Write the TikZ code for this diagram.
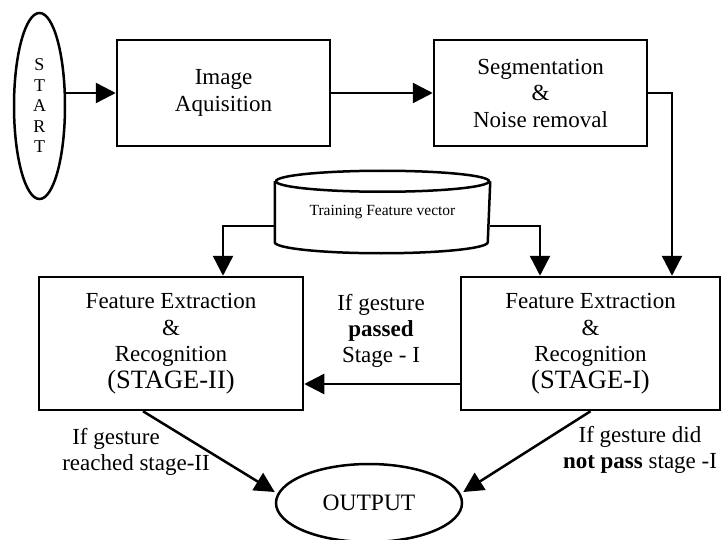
\documentclass[tikz,border=0pt]{standalone}
\usepackage{fontspec}
\setmainfont{Liberation Serif}
\usetikzlibrary{arrows.meta,shapes.geometric}
\begin{document}
\begin{tikzpicture}[x=1pt,y=-1pt, line width=2.5pt,
  box/.style={draw, rectangle, inner sep=0pt, align=center, font=\fontsize{23}{26.5}\selectfont},
  arr/.style={-{Triangle[length=20pt,width=20pt]}},
  lbl/.style={align=center, font=\fontsize{23}{26}\selectfont, inner sep=0pt}]
\useasboundingbox (0,0) rectangle (722,540);

\node[draw, ellipse, minimum width=51pt, minimum height=186pt, inner sep=0pt, align=center, font=\fontsize{18}{20.5}\selectfont] (start) at (39.5,106) {S\\T\\A\\R\\T};
\node[box, minimum width=213pt, minimum height=106pt] (img) at (223.5,93) {Image\\Aquisition};
\node[box, minimum width=213pt, minimum height=106pt] (seg) at (540.5,93) {Segmentation\\\&\\Noise removal};

\node[minimum width=213pt, minimum height=80pt, inner sep=0pt, font=\fontsize{15.5}{18}\selectfont] (tfv) at (382.5,212) {Training Feature vector};
\draw ([yshift=-10.5pt]tfv.north) ellipse [x radius=106.5pt, y radius=10.5pt];
\draw ([yshift=-10.5pt]tfv.north west) -- ([yshift=11pt]tfv.south west) arc[start angle=180, end angle=360, x radius=106.5pt, y radius=11pt] -- ([yshift=-10.5pt]tfv.north east);

\node[box, minimum width=264pt, minimum height=133pt] (s2) at (171,343.5) {Feature Extraction\\\&\\Recognition\\{\fontsize{26.5}{28}\selectfont (STAGE-II)}};
\node[box, minimum width=259pt, minimum height=133pt] (s1) at (590.5,343.5) {Feature Extraction\\\&\\Recognition\\{\fontsize{26.5}{28}\selectfont (STAGE-I)}};

\node[draw, ellipse, minimum width=186pt, minimum height=78pt, inner sep=0pt, font=\fontsize{23.5}{26}\selectfont] (out) at (369,503) {OUTPUT};

\node[lbl] (lp) at (381,331) {If gesture\\\textbf{passed}\\Stage - I};
\node[lbl, align=left] (lr) at (136,452) {\hspace{10pt}If gesture\\reached stage-II};
\node[lbl] (ln) at (640,450) {If gesture did\\\textbf{not pass} stage -I};

\coordinate (segx) at (672,0);
\coordinate (tl) at (223,0);
\coordinate (tr) at (540,0);
\coordinate (hy) at (0,384);

\draw[arr] (start.east |- img.west) -- (img.west);
\draw[arr] (img.east) -- (seg.west);
\draw[arr] (seg.east) -| (segx |- s1.north);
\draw[arr] ([yshift=-14pt]tfv.west) -| (tl |- s2.north);
\draw[arr] ([yshift=-14pt]tfv.east) -| (tr |- s1.north);
\draw[arr] (s1.west |- hy) -- (s2.east |- hy);
\draw[arr] ([xshift=-28pt]s2.south) -- ([yshift=11pt]out.west);
\draw[arr] (s1.south) -- ([yshift=11pt]out.east);
\end{tikzpicture}
\end{document}
